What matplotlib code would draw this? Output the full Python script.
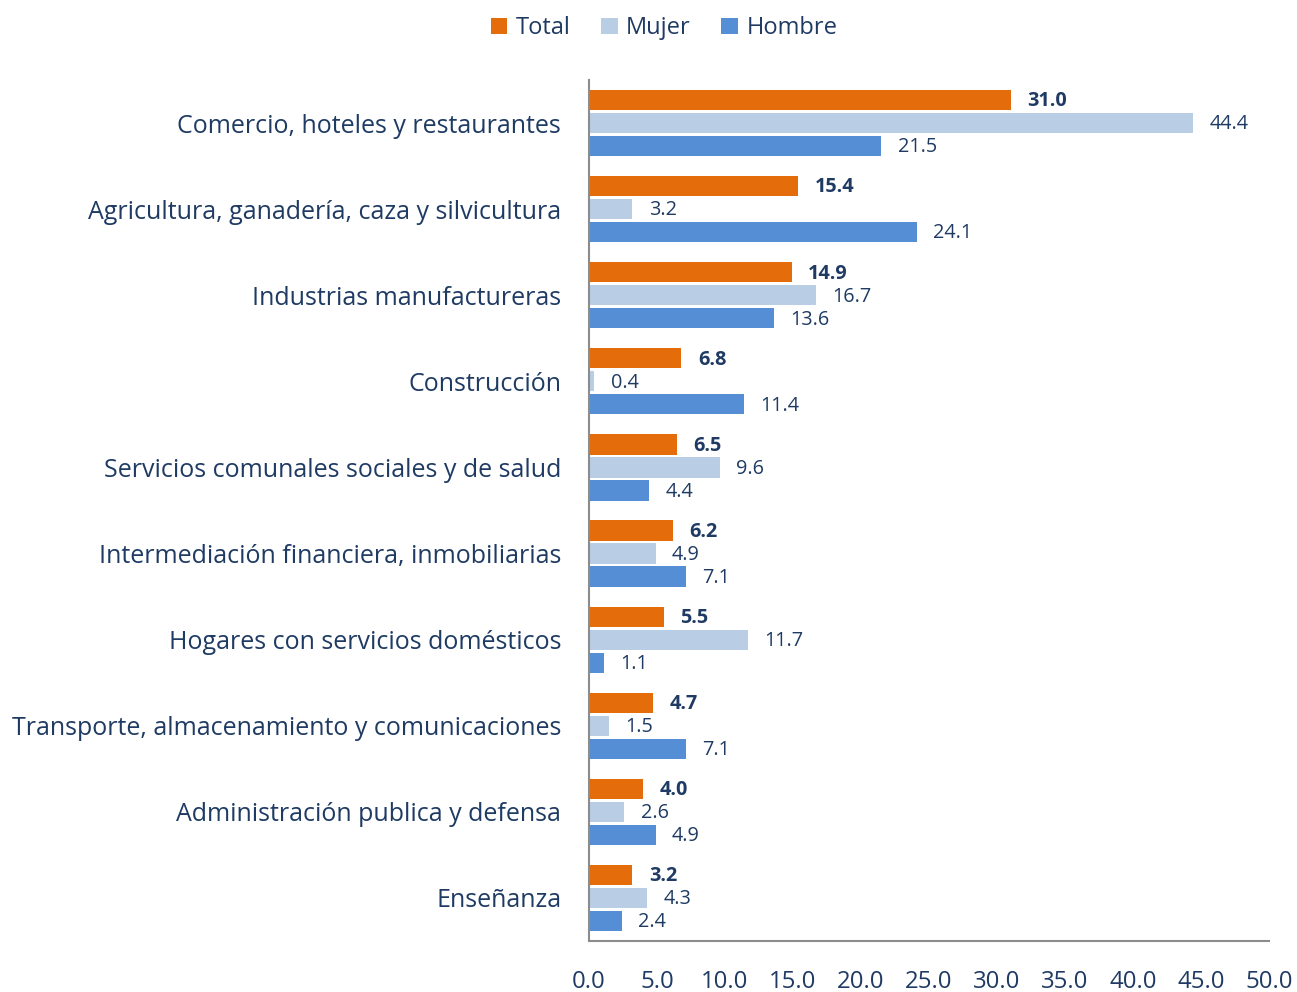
import matplotlib.pyplot as plt
import numpy as np

plt.rcParams['font.family'] = ['Open Sans', 'DejaVu Sans']

categories = [
    "Comercio, hoteles y restaurantes",
    "Agricultura, ganadería, caza y silvicultura",
    "Industrias manufactureras",
    "Construcción",
    "Servicios comunales sociales y de salud",
    "Intermediación financiera, inmobiliarias",
    "Hogares con servicios domésticos",
    "Transporte, almacenamiento y comunicaciones",
    "Administración publica y defensa",
    "Enseñanza",
]
total = [31.0, 15.4, 14.9, 6.8, 6.5, 6.2, 5.5, 4.7, 4.0, 3.2]
mujer = [44.4, 3.2, 16.7, 0.4, 9.6, 4.9, 11.7, 1.5, 2.6, 4.3]
hombre = [21.5, 24.1, 13.6, 11.4, 4.4, 7.1, 1.1, 7.1, 4.9, 2.4]
series = ["Total", "Mujer", "Hombre"]
colors = ["#E46C0A", "#B9CDE5", "#558ED5"]
text_color = "#1F3B63"

fig = plt.figure(figsize=(12.97, 9.92), dpi=100)
ax = fig.add_axes([0.4541, 0.0514, 0.5243, 0.868])

y = np.arange(len(categories))
off = 0.267
h = 0.235
for i, (vals, name, c) in enumerate(zip([total, mujer, hombre], series, colors)):
    pos = y + (i - 1) * off
    ax.barh(pos, vals, height=h, color=c, label=name)
    for p, v in zip(pos, vals):
        ax.text(v + 1.2, p + 0.015, f"{v:.1f}", va="center", ha="left",
                fontsize=14.3, color=text_color,
                fontweight="bold" if i == 0 else "normal")

ax.set_ylim(len(categories) - 0.5, -0.5)
ax.set_xlim(0, 50)
ax.set_xticks(np.arange(0, 51, 5))
ax.set_xticklabels([f"{t:.1f}" for t in np.arange(0, 51, 5)])
ax.set_yticks(y)
ax.set_yticklabels(categories, fontsize=18)
ax.tick_params(axis="both", length=0, labelcolor=text_color)
ax.tick_params(axis="x", pad=21, labelsize=17.3)
ax.tick_params(axis="y", pad=20)
for s in ["top", "right"]:
    ax.spines[s].set_visible(False)
for s in ["left", "bottom"]:
    ax.spines[s].set_color("#8C8C8C")
    ax.spines[s].set_linewidth(1.5)

fig.legend(loc="upper center", bbox_to_anchor=(0.512, 1.005), ncol=3, frameon=False,
           fontsize=17, labelcolor=text_color, handlelength=0.7, handleheight=0.7,
           handletextpad=0.35, columnspacing=1.3)

fig.savefig("out.png", dpi=100)
